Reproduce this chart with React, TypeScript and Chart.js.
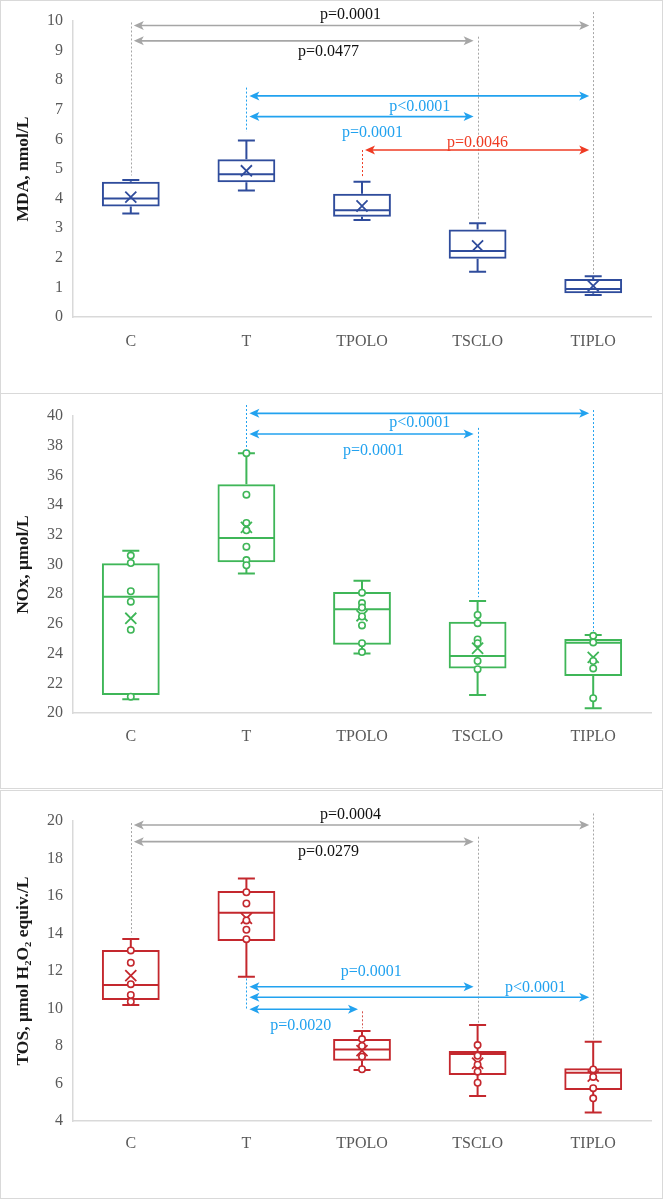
import React, { useEffect, useRef } from 'react';
import { Chart, registerables } from 'chart.js';

Chart.register(...registerables);

// ---------------- data ----------------
const categories = ['C', 'T', 'TPOLO', 'TSCLO', 'TIPLO'];

// MDA, nmol/L
const mdaLow = [3.5, 4.27, 3.28, 1.53, 0.74];
const mdaQ1 = [3.73, 4.55, 3.39, 1.97, 0.8];
const mdaMedian = [4.0, 4.82, 3.61, 2.23, 0.95];
const mdaQ3 = [4.57, 5.33, 4.16, 2.96, 1.28];
const mdaHigh = [4.63, 5.96, 4.57, 3.17, 1.38];
const mdaMean = [4.05, 4.94, 3.75, 2.4, 1.05];

// NOx, µmol/L
const noxLow = [20.92, 29.4, 24.0, 21.21, 20.32];
const noxQ1 = [21.21, 30.15, 24.6, 23.0, 22.49];
const noxMedian = [27.83, 31.78, 26.98, 23.84, 24.73];
const noxQ3 = [30.08, 35.4, 28.15, 26.15, 24.98];
const noxHigh = [30.93, 37.49, 28.9, 27.54, 25.25];
const noxMean = [26.38, 32.5, 26.55, 24.36, 23.75];
const noxPointsC = [30.6, 30.1, 28.2, 27.5, 25.6, 21.1];
const noxPointsT = [37.5, 34.7, 32.8, 32.3, 31.2, 30.3, 29.95];
const noxPointsTPOLO = [28.1, 27.4, 27.1, 26.5, 25.9, 24.7, 24.1];
const noxPointsTSCLO = [26.6, 26.05, 24.95, 24.7, 23.5, 22.95];
const noxPointsTIPLO = [25.2, 24.75, 23.5, 23.0, 21.0];

// TOS, µmol H2O2 equiv./L
const tosLow = [10.19, 11.7, 6.72, 5.33, 4.46];
const tosQ1 = [10.45, 13.6, 7.22, 6.45, 5.65];
const tosMedian = [11.25, 15.11, 7.82, 7.57, 6.58];
const tosQ3 = [13.12, 16.27, 8.37, 7.73, 6.81];
const tosHigh = [13.71, 16.94, 8.8, 9.12, 8.23];
const tosMean = [11.75, 14.81, 7.75, 7.08, 6.4];
const tosPointsC = [13.1, 12.44, 11.3, 10.72, 10.36];
const tosPointsT = [16.2, 15.6, 14.7, 14.2, 13.7];
const tosPointsTPOLO = [8.37, 8.0, 7.43, 6.76];
const tosPointsTSCLO = [8.05, 7.48, 7.0, 6.63, 6.04];
const tosPointsTIPLO = [6.75, 6.35, 5.75, 5.21];

// significance annotations (category indices, values on the y axis)
type Kind = 'gray' | 'blue' | 'red' | 'black' | 'darkred';
interface Arrow { kind: Kind; from: number; to: number; y: number }
interface Guide { kind: Kind; cat: number; y1: number; y2: number }
interface PLabel { kind: Kind; text: string; at: number; y: number }

const mdaArrows: Arrow[] = [
  { kind: 'gray', from: 0, to: 4, y: 9.85 },
  { kind: 'gray', from: 0, to: 3, y: 9.33 },
  { kind: 'blue', from: 1, to: 4, y: 7.47 },
  { kind: 'blue', from: 1, to: 3, y: 6.77 },
  { kind: 'red', from: 2, to: 4, y: 5.64 },
];
const mdaGuides: Guide[] = [
  { kind: 'gray', cat: 0, y1: 9.95, y2: 4.78 },
  { kind: 'gray', cat: 3, y1: 9.47, y2: 3.25 },
  { kind: 'gray', cat: 4, y1: 10.3, y2: 1.45 },
  { kind: 'blue', cat: 1, y1: 7.75, y2: 6.26 },
  { kind: 'red', cat: 2, y1: 5.64, y2: 4.75 },
];
const mdaLabels: PLabel[] = [
  { kind: 'black', text: 'p=0.0001', at: 1.9, y: 10.2 },
  { kind: 'black', text: 'p=0.0477', at: 1.71, y: 8.95 },
  { kind: 'blue', text: 'p<0.0001', at: 2.5, y: 7.09 },
  { kind: 'blue', text: 'p=0.0001', at: 2.09, y: 6.22 },
  { kind: 'red', text: 'p=0.0046', at: 3.0, y: 5.88 },
];

const noxArrows: Arrow[] = [
  { kind: 'blue', from: 1, to: 4, y: 40.18 },
  { kind: 'blue', from: 1, to: 3, y: 38.79 },
];
const noxGuides: Guide[] = [
  { kind: 'blue', cat: 1, y1: 40.74, y2: 37.6 },
  { kind: 'blue', cat: 3, y1: 39.2, y2: 27.8 },
  { kind: 'blue', cat: 4, y1: 40.4, y2: 25.5 },
];
const noxLabels: PLabel[] = [
  { kind: 'blue', text: 'p<0.0001', at: 2.5, y: 39.53 },
  { kind: 'blue', text: 'p=0.0001', at: 2.1, y: 37.64 },
];

const tosArrows: Arrow[] = [
  { kind: 'gray', from: 0, to: 4, y: 19.79 },
  { kind: 'gray', from: 0, to: 3, y: 18.9 },
  { kind: 'blue', from: 1, to: 3, y: 11.16 },
  { kind: 'blue', from: 1, to: 4, y: 10.6 },
  { kind: 'blue', from: 1, to: 2, y: 9.96 },
];
const tosGuides: Guide[] = [
  { kind: 'gray', cat: 0, y1: 19.89, y2: 13.9 },
  { kind: 'gray', cat: 3, y1: 19.16, y2: 9.2 },
  { kind: 'gray', cat: 4, y1: 20.4, y2: 8.3 },
  { kind: 'blue', cat: 1, y1: 11.6, y2: 9.9 },
  { kind: 'darkred', cat: 2, y1: 9.85, y2: 8.95 },
];
const tosLabels: PLabel[] = [
  { kind: 'black', text: 'p=0.0004', at: 1.9, y: 20.32 },
  { kind: 'black', text: 'p=0.0279', at: 1.71, y: 18.36 },
  { kind: 'blue', text: 'p=0.0001', at: 2.08, y: 11.96 },
  { kind: 'blue', text: 'p<0.0001', at: 3.5, y: 11.08 },
  { kind: 'blue', text: 'p=0.0020', at: 1.47, y: 9.07 },
];

// ---------------- styling ----------------
const FONT = '"Liberation Serif", "Times New Roman", serif';
const KIND_COLORS: Record<Kind, string> = {
  gray: '#a6a6a6',
  blue: '#22a2ef',
  red: '#ef3b23',
  black: '#111111',
  darkred: '#d4504a',
};
const AXIS_COLOR = '#d9d9d9';
const TICK_COLOR = '#595959';

interface PanelSpec {
  low: number[]; q1: number[]; median: number[]; q3: number[]; high: number[]; mean: number[];
  points: number[][] | null;
  color: string; yMin: number; yMax: number; step: number; title: string;
  arrows: Arrow[]; guides: Guide[]; labels: PLabel[];
  top: number; height: number; padTop: number; padBottom: number; tickPad: number;
}

const panels: PanelSpec[] = [
  {
    low: mdaLow, q1: mdaQ1, median: mdaMedian, q3: mdaQ3, high: mdaHigh, mean: mdaMean,
    points: null, color: '#2f4c9c', yMin: 0, yMax: 10, step: 1, title: 'MDA, nmol/L',
    arrows: mdaArrows, guides: mdaGuides, labels: mdaLabels,
    top: 0, height: 394, padTop: 20, padBottom: 36, tickPad: 15,
  },
  {
    low: noxLow, q1: noxQ1, median: noxMedian, q3: noxQ3, high: noxHigh, mean: noxMean,
    points: [noxPointsC, noxPointsT, noxPointsTPOLO, noxPointsTSCLO, noxPointsTIPLO],
    color: '#3fb658', yMin: 20, yMax: 40, step: 2, title: 'NOx, \u00b5mol/L',
    arrows: noxArrows, guides: noxGuides, labels: noxLabels,
    top: 393, height: 396, padTop: 22, padBottom: 35, tickPad: 14,
  },
  {
    low: tosLow, q1: tosQ1, median: tosMedian, q3: tosQ3, high: tosHigh, mean: tosMean,
    points: [tosPointsC, tosPointsT, tosPointsTPOLO, tosPointsTSCLO, tosPointsTIPLO],
    color: '#c4282e', yMin: 4, yMax: 20, step: 2, title: 'TOS, \u00b5mol H\u2082O\u2082 equiv./L',
    arrows: tosArrows, guides: tosGuides, labels: tosLabels,
    top: 790, height: 409, padTop: 30, padBottom: 37, tickPad: 13,
  },
];

// ---------------- plugins ----------------
function makeWhiskerPlugin(s: PanelSpec) {
  return {
    id: 'whiskers',
    beforeDatasetsDraw(chart: any) {
      const { ctx } = chart;
      const x = chart.scales.x;
      const y = chart.scales.y;
      const meta = chart.getDatasetMeta(2);
      ctx.save();
      ctx.strokeStyle = s.color;
      ctx.lineWidth = 2;
      const capHalf = 8.5;
      s.low.forEach((lo: number, i: number) => {
        const cx = x.getPixelForValue(i);
        const bar = meta.data[i];
        const half = bar ? bar.width / 2 : 28;
        const yLo = y.getPixelForValue(lo);
        const yQ1 = y.getPixelForValue(s.q1[i]);
        const yMed = y.getPixelForValue(s.median[i]);
        const yQ3 = y.getPixelForValue(s.q3[i]);
        const yHi = y.getPixelForValue(s.high[i]);
        ctx.beginPath();
        ctx.moveTo(cx, yQ3); ctx.lineTo(cx, yHi);
        ctx.moveTo(cx - capHalf, yHi); ctx.lineTo(cx + capHalf, yHi);
        ctx.moveTo(cx, yQ1); ctx.lineTo(cx, yLo);
        ctx.moveTo(cx - capHalf, yLo); ctx.lineTo(cx + capHalf, yLo);
        ctx.moveTo(cx - half + 1, yMed); ctx.lineTo(cx + half - 1, yMed);
        ctx.stroke();
      });
      ctx.restore();
    },
  };
}

function arrowHead(ctx: CanvasRenderingContext2D, tipX: number, y: number, dir: number) {
  const L = 10, W = 4.5, notch = 2.5;
  ctx.beginPath();
  ctx.moveTo(tipX, y);
  ctx.lineTo(tipX - dir * L, y - W);
  ctx.lineTo(tipX - dir * (L - notch), y);
  ctx.lineTo(tipX - dir * L, y + W);
  ctx.closePath();
  ctx.fill();
}

function makeAnnotationPlugin(s: PanelSpec) {
  return {
    id: 'pAnnotations',
    afterDraw(chart: any) {
      const { ctx } = chart;
      const x = chart.scales.x;
      const y = chart.scales.y;
      ctx.save();
      ctx.lineWidth = 1;
      ctx.setLineDash([2, 2]);
      s.guides.forEach((g) => {
        ctx.strokeStyle = KIND_COLORS[g.kind];
        const px = Math.round(x.getPixelForValue(g.cat)) + 0.5;
        ctx.beginPath();
        ctx.moveTo(px, y.getPixelForValue(g.y1));
        ctx.lineTo(px, y.getPixelForValue(g.y2));
        ctx.stroke();
      });
      ctx.setLineDash([]);
      s.arrows.forEach((a) => {
        const c = KIND_COLORS[a.kind];
        ctx.strokeStyle = c;
        ctx.fillStyle = c;
        ctx.lineWidth = 1.6;
        const xl = x.getPixelForValue(a.from) + 3;
        const xr = x.getPixelForValue(a.to) - 4;
        const py = y.getPixelForValue(a.y);
        ctx.beginPath();
        ctx.moveTo(xl + 6, py);
        ctx.lineTo(xr - 6, py);
        ctx.stroke();
        arrowHead(ctx, xl, py, -1);
        arrowHead(ctx, xr, py, 1);
      });
      ctx.font = `16px ${FONT}`;
      ctx.textAlign = 'center';
      ctx.textBaseline = 'middle';
      s.labels.forEach((l) => {
        ctx.fillStyle = KIND_COLORS[l.kind];
        ctx.fillText(l.text, x.getPixelForValue(l.at), y.getPixelForValue(l.y));
      });
      ctx.restore();
    },
  };
}

function buildChart(canvas: HTMLCanvasElement, s: PanelSpec) {
  const pointData = s.points
    ? s.points.flatMap((arr, i) => arr.map((v) => ({ x: categories[i], y: v })))
    : [];
  const datasets: any[] = [
    {
      type: 'line', label: 'points', data: pointData, showLine: false, order: 0,
      pointStyle: 'circle', pointRadius: 3.2, pointBorderWidth: 1.6,
      pointBackgroundColor: '#ffffff', pointBorderColor: s.color,
    },
    {
      type: 'line', label: 'mean', data: s.mean, showLine: false, order: 1,
      pointStyle: 'crossRot', pointRadius: 7.8, pointBorderWidth: 1.8,
      pointBorderColor: s.color, pointBackgroundColor: s.color,
    },
    {
      type: 'bar', label: 'box', data: s.q1.map((v, i) => [v, s.q3[i]]), order: 2,
      backgroundColor: 'rgba(255,255,255,0)', borderColor: s.color, borderWidth: 2,
      borderSkipped: false, barPercentage: 0.5, categoryPercentage: 1,
    },
  ];
  return new Chart(canvas, {
    type: 'bar',
    data: { labels: categories, datasets },
    options: {
      responsive: false,
      animation: false,
      events: [],
      layout: { padding: { left: 0, right: 11, top: s.padTop, bottom: s.padBottom } },
      plugins: { legend: { display: false }, tooltip: { enabled: false } },
      scales: {
        x: {
          type: 'category',
          grid: { display: false, drawTicks: false },
          border: { display: true, color: AXIS_COLOR, width: 1.5 },
          ticks: { color: TICK_COLOR, font: { family: FONT, size: 16 }, padding: s.tickPad },
          afterFit: (sc: any) => { sc.height = 40; },
        },
        y: {
          min: s.yMin, max: s.yMax,
          grid: { display: false, drawTicks: false },
          border: { display: true, color: AXIS_COLOR, width: 1.5 },
          ticks: { stepSize: s.step, color: TICK_COLOR, font: { family: FONT, size: 16 }, padding: 10 },
          title: {
            display: true, text: s.title, color: '#1a1a1a',
            font: { family: FONT, size: 17.5, weight: 'bold' },
            padding: { top: 12, bottom: 0 },
          },
          afterFit: (sc: any) => { sc.width = 72; },
        },
      },
    } as any,
    plugins: [makeWhiskerPlugin(s), makeAnnotationPlugin(s)],
  });
}

function Panel({ spec }: { spec: PanelSpec }) {
  const ref = useRef<HTMLCanvasElement>(null);
  useEffect(() => {
    if (!ref.current) return;
    const chart = buildChart(ref.current, spec);
    return () => chart.destroy();
  }, [spec]);
  const h = spec.height - 2;
  return (
    <div
      style={{
        position: 'absolute', left: 0, top: spec.top, width: 663, height: spec.height,
        border: `1px solid ${AXIS_COLOR}`, boxSizing: 'border-box', background: '#ffffff',
      }}
    >
      <canvas ref={ref} width={661} height={h} style={{ display: 'block', width: 661, height: h }} />
    </div>
  );
}

export default function App() {
  return (
    <div style={{ position: 'absolute', left: 0, top: 0, width: 663, height: 1200, background: '#ffffff' }}>
      {panels.map((p, i) => (
        <Panel key={i} spec={p} />
      ))}
    </div>
  );
}
